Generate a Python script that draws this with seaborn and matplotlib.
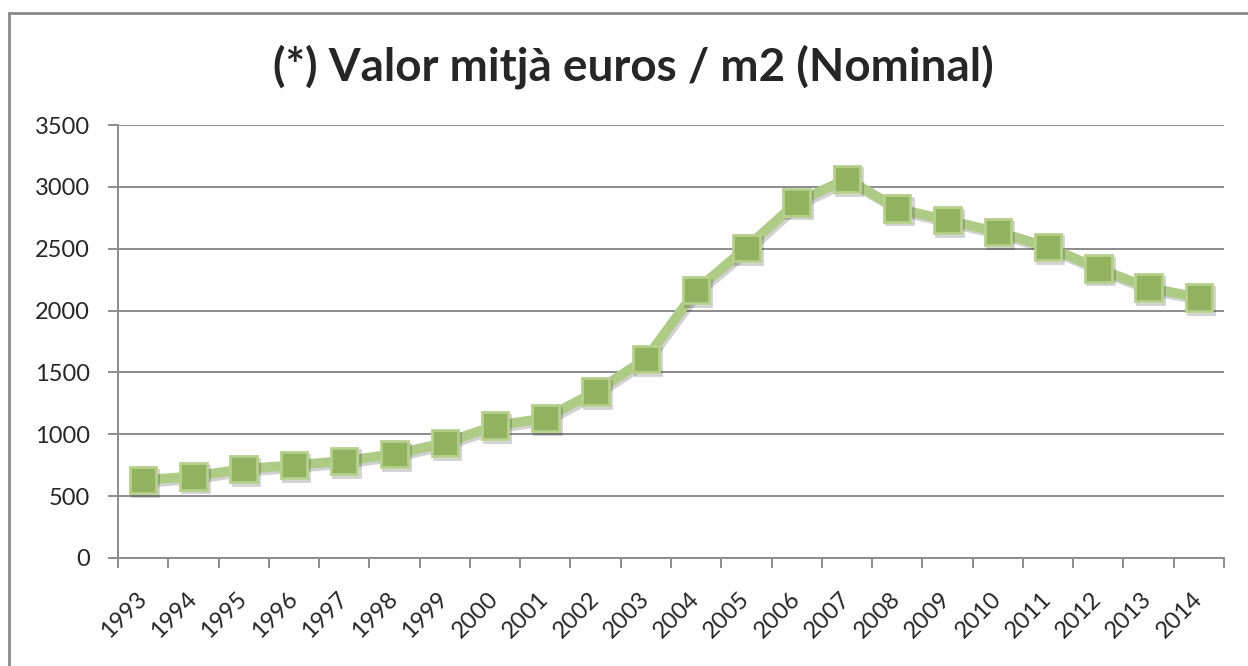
import matplotlib
matplotlib.use("Agg")

import numpy as np
import pandas as pd
import matplotlib.pyplot as plt
import matplotlib.patheffects as pe
from matplotlib.patches import Rectangle
from matplotlib.ticker import FixedLocator
import seaborn as sns

# dades: valor mitjà euros / m2 (nominal)
years = [str(y) for y in range(1993, 2015)]
values = [630, 660, 720, 750, 785, 840, 930, 1070, 1130, 1345, 1610,
          2165, 2508, 2875, 3065, 2825, 2730, 2635, 2515, 2340, 2185, 2105]
y_ticks = [0, 500, 1000, 1500, 2000, 2500, 3000, 3500]

title = "(*) Valor mitjà euros / m2 (Nominal)"

sns.set_style("white")
plt.rcParams["font.family"] = ["Lato", "DejaVu Sans"]

df = pd.DataFrame({"any": years, "valor": values})
df["pos"] = np.arange(len(df))

fig = plt.figure(figsize=(12.48, 6.66), dpi=100)
ax = fig.add_axes([118 / 1248, 1 - 558 / 666, (1224 - 118) / 1248, (558 - 125) / 666])

grid_col = "#8c8c8c"

sns.lineplot(
    data=df, x="pos", y="valor", ax=ax,
    color="#AECB86", linewidth=7,
    marker="s", markersize=19,
    markerfacecolor="#91B25F", markeredgecolor="#B6D08C", markeredgewidth=2,
    zorder=3,
)
ax.lines[0].set_path_effects([
    pe.SimpleLineShadow(offset=(1.5, -2), shadow_color="black", alpha=0.18),
    pe.Normal(),
])

ax.set_xlim(-0.5, len(years) - 0.5)
ax.set_ylim(0, 3500)
ax.set_yticks(y_ticks)
ax.set_yticklabels([str(v) for v in y_ticks])
ax.yaxis.grid(True, color=grid_col, linewidth=1.4)
ax.xaxis.grid(False)

# etiquetes al centre de cada categoria, marques als límits
ax.set_xticks(df["pos"])
ax.set_xticklabels(years, rotation=45, ha="right", va="center",
                   rotation_mode="anchor")
ax.xaxis.set_minor_locator(FixedLocator(np.arange(-0.5, len(years), 1)))
ax.tick_params(axis="x", which="major", length=0, pad=27, labelsize=17)
ax.tick_params(axis="x", which="minor", length=7, width=1.4, color=grid_col,
               direction="out", bottom=True)
ax.tick_params(axis="y", length=7, width=1.4, color=grid_col, pad=13,
               labelsize=17, direction="out", left=True)

for s in ["top", "right"]:
    ax.spines[s].set_visible(False)
for s in ["left", "bottom"]:
    ax.spines[s].set_color(grid_col)
    ax.spines[s].set_linewidth(1.4)

ax.set_xlabel("")
ax.set_ylabel("")

fig.text(633 / 1248, 1 - 67 / 666, title, ha="center", va="center",
         fontsize=33, fontweight="bold")

# marc exterior del gràfic
fig.patches.append(Rectangle((9 / 1248, -0.05), 1.2, 1.05 - 13 / 666,
                             transform=fig.transFigure, fill=False,
                             edgecolor="#8a8a8a", linewidth=2))

fig.savefig("out.png", dpi=100)
plt.close(fig)
